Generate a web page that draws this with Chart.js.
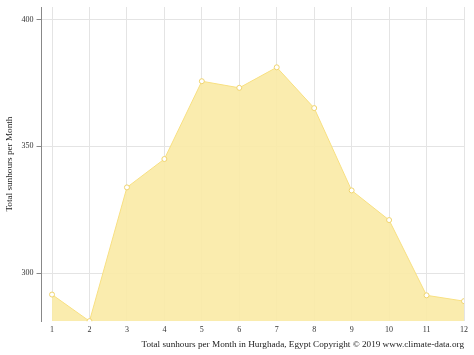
<!DOCTYPE html>
<html>
<head>
<meta charset="utf-8">
<script src="https://cdn.jsdelivr.net/npm/chart.js@4"></script>
<style>
  html, body { margin: 0; padding: 0; background: #fff; }
  canvas { display: block; }
</style>
</head>
<body>
<canvas id="chart" width="474" height="355"></canvas>
<script>
// months on the x axis
const months = [1, 2, 3, 4, 5, 6, 7, 8, 9, 10, 11, 12];
// sunshine hours per month
const sunhours = [291.5, 281.0, 333.8, 345.0, 375.7, 373.1, 381.2, 365.1, 332.6, 320.9, 291.2, 288.9];
const yTicks = [300, 350, 400];

const yTitle = 'Total sunhours per Month';
const xTitle = 'Total sunhours per Month in Hurghada, Egypt Copyright \u00a9 2019 www.climate-data.org';

const serif = '"Liberation Serif", "DejaVu Serif", serif';
const tickFont = { family: serif, size: 8, lineHeight: 1 };
const titleFont = { family: serif, size: 9.2 };

new Chart(document.getElementById('chart'), {
    type: 'line',
    data: {
        datasets: [{
            data: months.map((m, i) => ({ x: m, y: sunhours[i] })),
            fill: 'start',
            backgroundColor: 'rgba(250, 234, 165, 0.9)',
            borderColor: 'rgba(248, 224, 130, 1)',
            borderWidth: 1,
            tension: 0,
            pointRadius: 2.5,
            pointBackgroundColor: '#fff',
            pointBorderColor: 'rgba(240, 212, 110, 1)',
            pointBorderWidth: 1
        }]
    },
    options: {
        responsive: false,
        animation: false,
        layout: { padding: { top: 5, right: 10, left: 4, bottom: 4.8 } },
        plugins: { legend: { display: false }, tooltip: { enabled: false } },
        scales: {
            x: {
                type: 'linear',
                min: 0.72,
                max: 12,
                afterBuildTicks: (scale) => { scale.ticks = months.map(v => ({ value: v })); },
                ticks: { font: tickFont, color: '#333', padding: 5, maxRotation: 0 },
                grid: { color: '#e4e4e4', drawTicks: false },
                border: { display: false },
                title: {
                    display: true,
                    text: xTitle,
                    align: 'end',
                    font: titleFont,
                    color: '#222',
                    padding: { top: 0, bottom: 0 }
                }
            },
            y: {
                min: 281,
                max: 405,
                afterBuildTicks: (scale) => { scale.ticks = yTicks.map(v => ({ value: v })); },
                ticks: { font: tickFont, color: '#333', padding: 3 },
                grid: { color: '#e4e4e4', tickLength: 5, tickColor: '#888' },
                border: { display: true, color: '#888' },
                title: {
                    display: true,
                    text: yTitle,
                    font: titleFont,
                    color: '#222',
                    padding: { top: 0, bottom: 3.5 }
                }
            }
        }
    }
});
</script>
</body>
</html>
